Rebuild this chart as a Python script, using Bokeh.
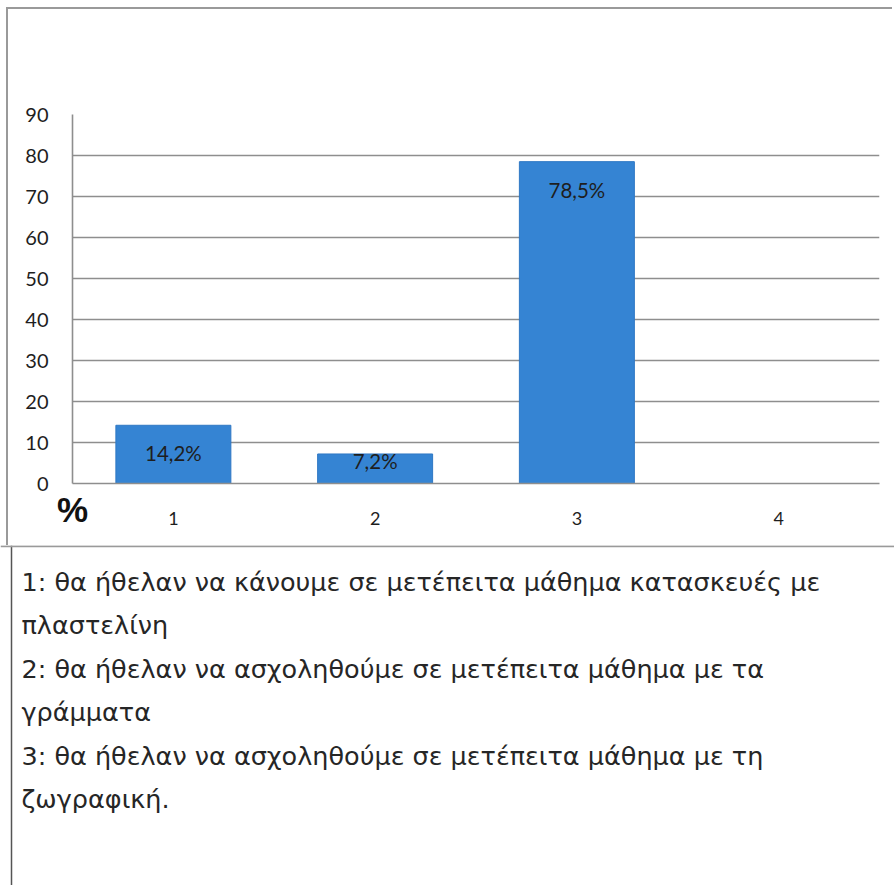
from bokeh.plotting import figure
from bokeh.models import Range1d, FixedTicker, Span, ColumnDataSource
from bokeh.core.properties import value
from bokeh.embed import file_html
from bokeh.resources import INLINE

# ---- data ----
categories = [1, 2, 3, 4]
tick_labels = ["1", "2", "3", "4"]
bar_x = [1, 2, 3]
bar_values = [14.2, 7.2, 78.5]
bar_labels = ["14,2%", "7,2%", "78,5%"]
y_ticks = [0, 10, 20, 30, 40, 50, 60, 70, 80, 90]
y_axis_title = "%"
legend_lines = [
    "1: θα ήθελαν να κάνουμε σε μετέπειτα μάθημα κατασκευές με",
    "πλαστελίνη",
    "2: θα ήθελαν να ασχοληθούμε σε μετέπειτα μάθημα με τα",
    "γράμματα",
    "3: θα ήθελαν να ασχοληθούμε σε μετέπειτα μάθημα με τη",
    "ζωγραφική.",
]

# ---- styles ----
label_offsets = [28, 7, 28]
GRID = "#8e8e8e"
BAR = "#3584d3"
TXT = "#1e1e1e"
BOX = "#9a9a9a"

W1, H1 = 886, 538
W2, H2 = 894, 340

p1 = figure(width=W1, height=H1, x_range=Range1d(0.5, 4.5), y_range=Range1d(0, 90),
            output_backend="svg", toolbar_location=None,
            min_border_left=64, min_border_right=15, min_border_top=105, min_border_bottom=64)
p1.margin = (7, 0, 0, 6)
p1.outline_line_color = None
p1.background_fill_color = "white"
p1.border_fill_color = "white"
p1.styles = {"border-top": "2px solid " + BOX, "border-left": "2px solid " + BOX}

p1.xgrid.visible = False
p1.ygrid.ticker = FixedTicker(ticks=y_ticks[1:])
p1.ygrid.grid_line_color = GRID
p1.ygrid.grid_line_width = 1.6

src = ColumnDataSource(dict(x=bar_x, top=bar_values, label=bar_labels, off=label_offsets))
p1.vbar(x="x", top="top", bottom=0, width=0.57, source=src,
        fill_color=BAR, line_color="#2f78c4", line_width=1)
p1.text(x="x", y="top", text="label", y_offset="off", source=src,
        text_align="center", text_baseline="middle",
        text_font=value("Lato"), text_font_size="20.5px", text_color=TXT)

xa = p1.xaxis[0]
xa.ticker = FixedTicker(ticks=categories)
xa.major_label_overrides = {c: t for c, t in zip(categories, tick_labels)}
xa.axis_line_color = GRID
xa.axis_line_width = 1.6
xa.major_tick_line_color = None
xa.minor_tick_line_color = None
xa.major_tick_out = 0
xa.major_label_standoff = 28
xa.major_label_text_font = "Lato"
xa.major_label_text_font_size = "18px"
xa.major_label_text_color = TXT
# the bold "%" sits at the bottom-left, level with the tick labels
xa.axis_label = y_axis_title
xa.axis_label_text_font = "Liberation Sans"
xa.axis_label_text_font_style = "bold"
xa.axis_label_text_font_size = "35px"
xa.axis_label_text_color = "#111111"
xa.axis_label_standoff = -38
xa.axis_label_align = "start"
xa.axis_label_text_align = "right"

ya = p1.yaxis[0]
ya.ticker = FixedTicker(ticks=y_ticks)
ya.axis_line_color = GRID
ya.axis_line_width = 1.6
ya.major_tick_line_color = None
ya.minor_tick_line_color = None
ya.major_tick_out = 0
ya.major_label_standoff = 24
ya.major_label_text_font = "Lato"
ya.major_label_text_font_size = "20px"
ya.major_label_text_color = TXT

p2 = figure(width=W2, height=H2, x_range=Range1d(0, W2), y_range=Range1d(H2, 0),
            output_backend="svg", toolbar_location=None, min_border=0)
p2.axis.visible = False
p2.grid.visible = False
p2.outline_line_color = None
p2.add_layout(Span(location=11, dimension="height", line_color="#555555", line_width=1.5))
p2.add_layout(Span(location=0.8, dimension="width", line_color=BOX, line_width=2))

ys = [36 + i * 43.5 for i in range(len(legend_lines))]
p2.text(x=[21] * len(legend_lines), y=ys, text=legend_lines,
        text_align="left", text_baseline="alphabetic",
        text_font=value("DejaVu Sans"), text_font_size="25.5px", text_color="#262626")

open("out.html", "w").write(file_html([p1, p2], INLINE))
